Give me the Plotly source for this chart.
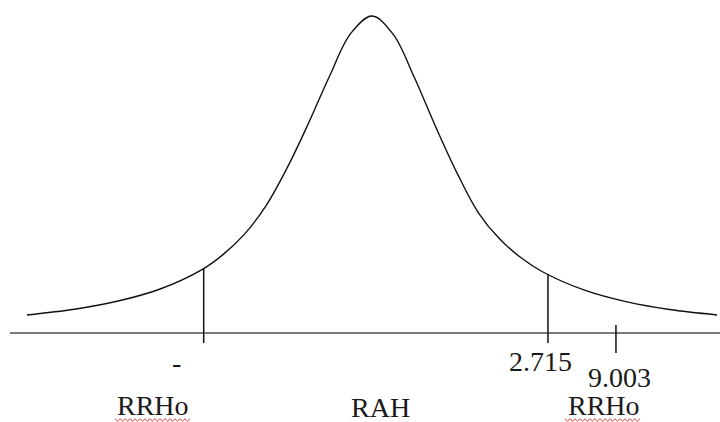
import plotly.graph_objects as go

# Curve (x in curve units, y relative height)
curve_x = [-4.06, -3.5, -3.0, -2.5, -2.0, -1.75, -1.5, -1.25, -1.0, -0.75, -0.5, -0.25, 0.0,
           0.25, 0.5, 0.75, 1.0, 1.25, 1.5, 1.75, 2.0, 2.5, 3.0, 3.5, 4.06]
curve_y = [0.057, 0.075, 0.100, 0.138, 0.200, 0.248, 0.312, 0.400, 0.520, 0.660, 0.810, 0.945, 1.000,
           0.942, 0.805, 0.650, 0.505, 0.380, 0.297, 0.238, 0.194, 0.135, 0.098, 0.074, 0.057]

baseline_x = [-4.26, 4.10]
cut_x = [-1.98, 2.07]
cut_top = [0.203, 0.186]
tick_x = 2.87

value_labels = ["-", "2.715", "9.003"]
region_labels = ["RRHo", "RAH", "RRHo"]

W, H = 720, 422
X0, XS = 372.0, 85.0      # pixel of x=0, pixels per x unit
Y0, YS = 333.0, 317.0     # pixel of y=0, pixels per y unit

def px_to_x(p):
    return (p - X0) / XS

def py_to_y(p):
    return (Y0 - p) / YS

fig = go.Figure()

fig.add_trace(go.Scatter(x=baseline_x, y=[0, 0], mode="lines",
                         line=dict(color="#7a7a7a", width=2), hoverinfo="skip"))
fig.add_trace(go.Scatter(x=curve_x, y=curve_y, mode="lines", line_shape="spline",
                         line=dict(color="#111111", width=1.4), hoverinfo="skip"))
for cx, ct in zip(cut_x, cut_top):
    fig.add_trace(go.Scatter(x=[cx, cx], y=[ct, py_to_y(343)], mode="lines",
                             line=dict(color="#111111", width=1.5), hoverinfo="skip"))
fig.add_trace(go.Scatter(x=[tick_x, tick_x], y=[py_to_y(325), py_to_y(353)], mode="lines",
                         line=dict(color="#111111", width=1.5), hoverinfo="skip"))

font = dict(family="Liberation Serif, Times New Roman, serif", size=28, color="#1a1a1a")

# value labels: (pixel x center, pixel y center)
val_pos = [(176, 362), (540, 361), (619, 377)]
for txt, (px, py) in zip(value_labels, val_pos):
    fig.add_annotation(x=px / W, y=1 - py / H, xref="paper", yref="paper", text=txt,
                       showarrow=False, font=font, xanchor="center", yanchor="middle")

reg_pos = [(152.5, 405), (380.5, 407), (603.5, 405)]
for txt, (px, py) in zip(region_labels, reg_pos):
    fig.add_annotation(x=px / W, y=1 - py / H, xref="paper", yref="paper", text=txt,
                       showarrow=False, font=font, xanchor="center", yanchor="middle")

# red wavy spell-check underline under RRHo
def wavy(x_start, x_end, y_px):
    pts = []
    x = x_start
    i = 0
    while x <= x_end:
        yy = y_px + (1.2 if i % 2 else -1.2)
        pts.append((x / W, 1 - yy / H))
        x += 2.5
        i += 1
    return "M " + " L ".join(f"{a:.5f},{b:.5f}" for a, b in pts)

for xs, xe in [(115, 190), (565, 642)]:
    fig.add_shape(type="path", path=wavy(xs, xe, 420), xref="paper", yref="paper",
                  line=dict(color="#e23b3b", width=1))

fig.update_layout(
    width=W, height=H, margin=dict(l=0, r=0, t=0, b=0),
    paper_bgcolor="white", plot_bgcolor="white", showlegend=False,
    xaxis=dict(range=[px_to_x(0), px_to_x(W)], visible=False, fixedrange=True),
    yaxis=dict(range=[py_to_y(H), py_to_y(0)], visible=False, fixedrange=True),
)

fig.write_html("out.html", config={"displayModeBar": False},
               post_script="document.body.style.margin='0';document.body.style.overflow='hidden';")
